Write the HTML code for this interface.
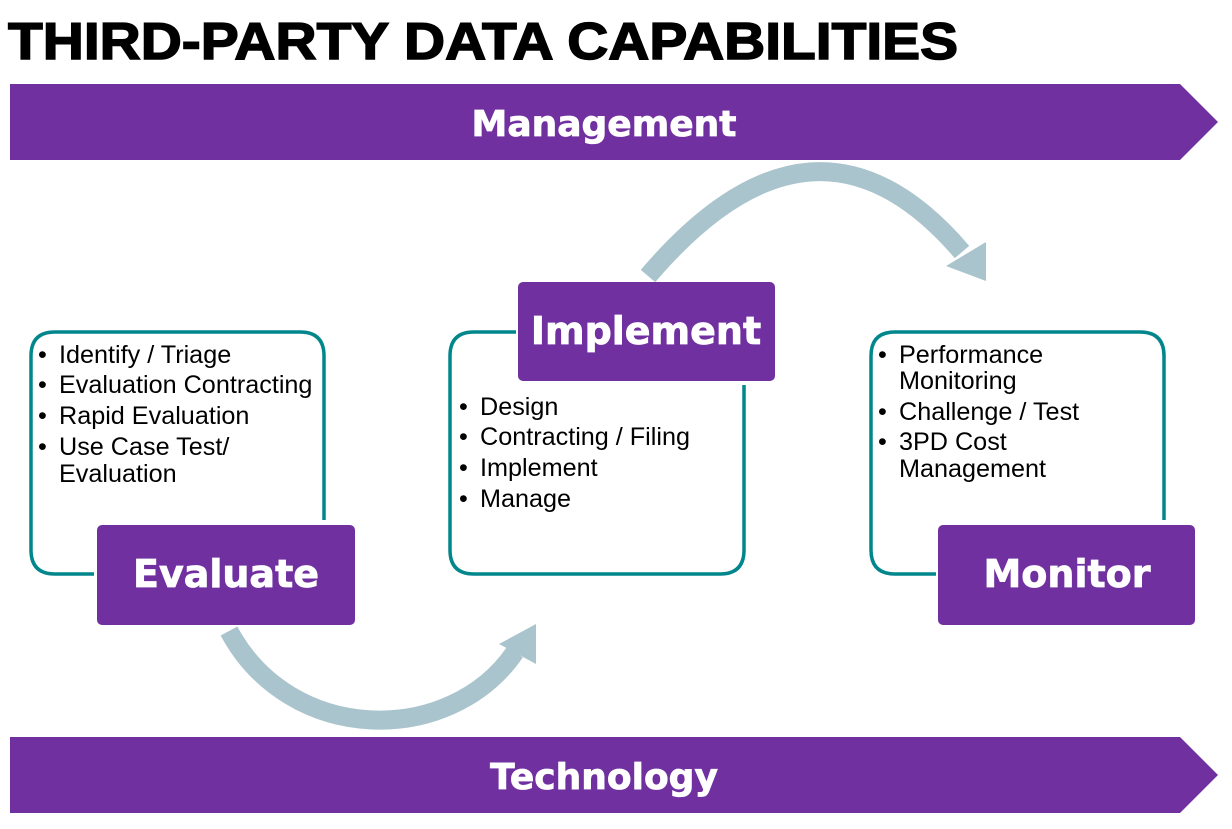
<!DOCTYPE html>
<html><head><meta charset="utf-8"><style>
html,body{margin:0;padding:0;background:#fff;}
svg{display:block;}
</style></head><body>
<svg width="1232" height="829" xmlns="http://www.w3.org/2000/svg">
<rect width="1232" height="829" fill="#fff"/>
<text x="8" y="59" font-family="'Liberation Sans',sans-serif" font-weight="bold" font-size="52" fill="#000" stroke="#000" stroke-width="1.5" textLength="950" lengthAdjust="spacingAndGlyphs">THIRD-PARTY DATA CAPABILITIES</text>
<polygon points="10,84 1180,84 1218,122 1180,160 10,160" fill="#7030A0"/>
<text x="604" y="136" text-anchor="middle" font-family="'DejaVu Sans',sans-serif" font-weight="bold" font-size="36" fill="#fff" stroke="#fff" stroke-width="0.8">Management</text>
<polygon points="10,737 1180,737 1218,775 1180,813 10,813" fill="#7030A0"/>
<text x="604" y="789" text-anchor="middle" font-family="'DejaVu Sans',sans-serif" font-weight="bold" font-size="36" fill="#fff" stroke="#fff" stroke-width="0.8">Technology</text>

<path d="M648 276 Q815 80 962 252" fill="none" stroke="#A9C4CC" stroke-width="19"/>
<polygon points="986,281 946,266 986,242" fill="#A9C4CC"/>
<path d="M229 631 C290 745 450 747 515 652" fill="none" stroke="#A9C4CC" stroke-width="19"/>
<polygon points="536,624 536,664 499,644" fill="#A9C4CC"/>

<g fill="none" stroke="#00868B" stroke-width="3.5">
<path d="M324 520 V356 Q324 332 300 332 H55 Q31 332 31 356 V550 Q31 574 55 574 H94"/>
<path d="M744 385 V550 Q744 574 720 574 H474 Q450 574 450 550 V356 Q450 332 474 332 H516"/>
<path d="M1164 520 V356 Q1164 332 1140 332 H895 Q871 332 871 356 V550 Q871 574 895 574 H936"/>
</g>

<rect x="97" y="525" width="258" height="100" rx="5" fill="#7030A0"/>
<text x="226" y="587" text-anchor="middle" font-family="'DejaVu Sans',sans-serif" font-weight="bold" font-size="38" fill="#fff" stroke="#fff" stroke-width="0.8">Evaluate</text>
<rect x="518" y="282" width="257" height="99" rx="5" fill="#7030A0"/>
<text x="646" y="344" text-anchor="middle" font-family="'DejaVu Sans',sans-serif" font-weight="bold" font-size="38" fill="#fff" stroke="#fff" stroke-width="0.8">Implement</text>
<rect x="938" y="525" width="257" height="100" rx="5" fill="#7030A0"/>
<text x="1067" y="587" text-anchor="middle" font-family="'DejaVu Sans',sans-serif" font-weight="bold" font-size="38" fill="#fff" stroke="#fff" stroke-width="0.8">Monitor</text>

<g font-family="'Liberation Sans',sans-serif" font-size="25.2" fill="#000">
<text x="38" y="363">•</text><text x="59" y="363">Identify / Triage</text>
<text x="38" y="393">•</text><text x="59" y="393">Evaluation Contracting</text>
<text x="38" y="424">•</text><text x="59" y="424">Rapid Evaluation</text>
<text x="38" y="455">•</text><text x="59" y="455">Use Case Test/</text>
<text x="59" y="482">Evaluation</text>

<text x="459" y="415">•</text><text x="480" y="415">Design</text>
<text x="459" y="445">•</text><text x="480" y="445">Contracting / Filing</text>
<text x="459" y="476">•</text><text x="480" y="476">Implement</text>
<text x="459" y="507">•</text><text x="480" y="507">Manage</text>

<text x="878" y="363">•</text><text x="899" y="363">Performance</text>
<text x="899" y="389">Monitoring</text>
<text x="878" y="420">•</text><text x="899" y="420">Challenge / Test</text>
<text x="878" y="450">•</text><text x="899" y="450">3PD Cost</text>
<text x="899" y="477">Management</text>
</g>
</svg>
</body></html>
